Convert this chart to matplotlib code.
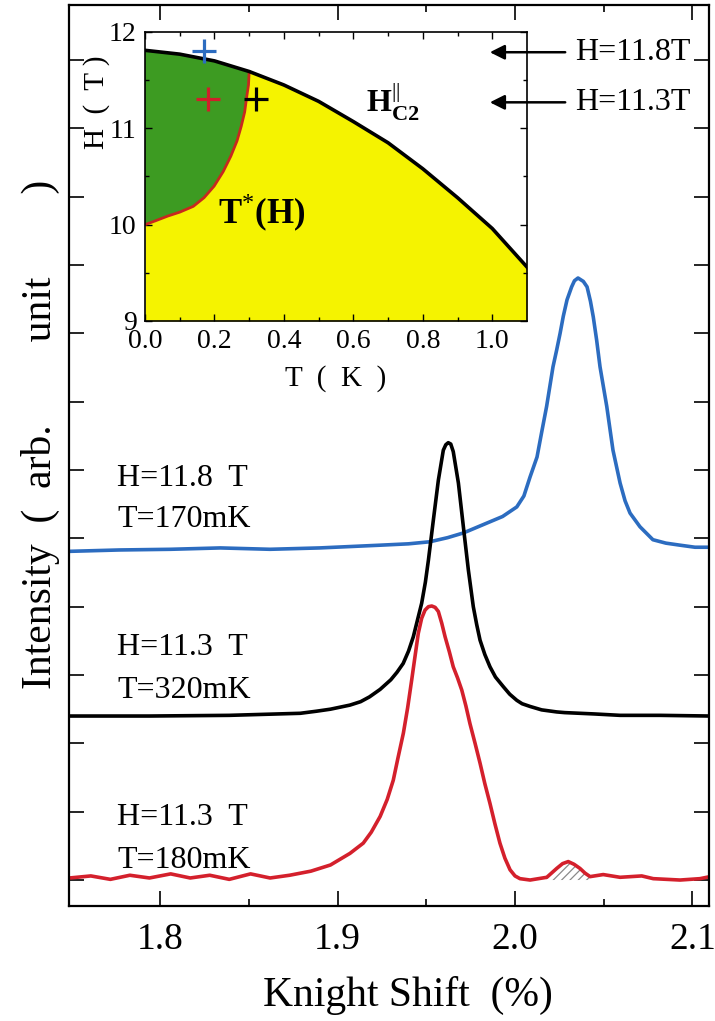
import numpy as np
import matplotlib.pyplot as plt

plt.rcParams['font.family'] = ['Liberation Serif', 'DejaVu Serif']
plt.rcParams['mathtext.fontset'] = 'custom'
plt.rcParams['mathtext.rm'] = 'Liberation Serif'
plt.rcParams['mathtext.bf'] = 'Liberation Serif:bold'
plt.rcParams['hatch.linewidth'] = 0.9

# spectra: Knight shift (%) and intensity (offset, arb. unit)
ks_118_170 = [1.749, 1.777, 1.806, 1.834, 1.862, 1.890, 1.924, 1.940, 1.952, 1.962,
              1.971, 1.982, 1.993, 2.001, 2.005, 2.0085, 2.0124, 2.0150, 2.0178, 2.0214,
              2.0235, 2.0254, 2.0272, 2.0293, 2.0319, 2.0335, 2.0355, 2.0385, 2.0406, 2.0425,
              2.0441, 2.0460, 2.0479, 2.0498, 2.0517, 2.0535, 2.0552, 2.0592, 2.0620, 2.0648,
              2.0704, 2.0777, 2.0850, 2.0930, 2.1014, 2.1099]
int_118_170 = [4.81, 4.83, 4.84, 4.86, 4.84, 4.86, 4.90, 4.92, 4.95, 5.01,
               5.08, 5.20, 5.32, 5.46, 5.62, 5.90, 6.19, 6.55, 6.93, 7.51,
               7.76, 8.00, 8.25, 8.49, 8.68, 8.77, 8.81, 8.76, 8.68, 8.47,
               8.24, 7.90, 7.51, 7.22, 6.93, 6.60, 6.29, 5.81, 5.55, 5.37,
               5.17, 4.98, 4.93, 4.90, 4.87, 4.87]

ks_113_320 = [1.749, 1.794, 1.839, 1.879, 1.888, 1.896, 1.907, 1.913, 1.918, 1.924,
              1.930, 1.9335, 1.937, 1.940, 1.9427, 1.945, 1.9474, 1.9495, 1.9512, 1.954,
              1.9568, 1.9596, 1.961, 1.9624, 1.9638, 1.9652, 1.9681, 1.9709, 1.9737, 1.9765,
              1.9784, 1.9803, 1.983, 1.9859, 1.989, 1.9934, 1.997, 2.001, 2.004, 2.0085,
              2.015, 2.0235, 2.028, 2.0366, 2.045, 2.0592, 2.070, 2.0817, 2.1099]
int_113_320 = [2.40, 2.40, 2.41, 2.44, 2.47, 2.50, 2.56, 2.61, 2.68, 2.79,
               2.93, 3.04, 3.17, 3.35, 3.56, 3.80, 4.05, 4.36, 4.68, 5.27,
               5.85, 6.29, 6.37, 6.40, 6.38, 6.27, 5.81, 5.17, 4.54, 4.00,
               3.74, 3.51, 3.30, 3.12, 2.97, 2.83, 2.72, 2.63, 2.58, 2.54,
               2.49, 2.46, 2.45, 2.44, 2.43, 2.41, 2.41, 2.41, 2.40]

ks_113_180 = [1.749, 1.761, 1.772, 1.783, 1.794, 1.806, 1.817, 1.828, 1.839, 1.851,
              1.862, 1.873, 1.885, 1.896, 1.907, 1.9145, 1.919, 1.924, 1.928, 1.9314,
              1.934, 1.9371, 1.9395, 1.9418, 1.9437, 1.9455, 1.9474, 1.9493, 1.9512, 1.9531,
              1.955, 1.9568, 1.9587, 1.9606, 1.963, 1.9652, 1.9676, 1.970, 1.9723, 1.9746,
              1.9775, 1.9803, 1.983, 1.9859, 1.9887, 1.9915, 1.9943, 1.9972, 2.000, 2.0028,
              2.0085, 2.0179, 2.0205, 2.0235, 2.0268, 2.0300, 2.0333, 2.0366, 2.0395, 2.0423,
              2.0497, 2.0592, 2.0714, 2.0779, 2.0930, 2.1042, 2.1099]
int_113_180 = [0.03, 0.06, 0.01, 0.07, 0.03, 0.09, 0.03, 0.07, 0.01, 0.09,
               0.03, 0.07, 0.13, 0.22, 0.39, 0.54, 0.70, 0.93, 1.18, 1.46,
               1.78, 2.15, 2.52, 2.93, 3.28, 3.61, 3.83, 3.95, 4.00, 4.01,
               3.99, 3.93, 3.76, 3.56, 3.34, 3.12, 2.96, 2.78, 2.55, 2.29,
               2.00, 1.71, 1.41, 1.12, 0.82, 0.54, 0.32, 0.15, 0.06, 0.02,
               0.00, 0.04, 0.10, 0.17, 0.24, 0.27, 0.23, 0.17, 0.10, 0.05,
               0.08, 0.04, 0.06, 0.02, 0.00, 0.02, 0.05]

# second-site satellite of the 180 mK spectrum
sat_lo, sat_hi = 2.017, 2.043

labels_left = [('H=11.8  T', 'T=170mK'), ('H=11.3  T', 'T=320mK'), ('H=11.3  T', 'T=180mK')]
label_y = [(5.88, 5.27), (3.40, 2.78), (0.92, 0.29)]

# phase diagram H || ab
T_hc2 = [0.0, 0.1, 0.2, 0.3, 0.4, 0.5, 0.6, 0.7, 0.8, 0.9, 1.0, 1.1]
H_hc2 = [11.81, 11.77, 11.70, 11.59, 11.45, 11.28, 11.07, 10.85, 10.58, 10.28, 9.96, 9.56]
T_star = [0.0, 0.03, 0.066, 0.10, 0.139, 0.17, 0.199, 0.225, 0.247, 0.265,
          0.277, 0.287, 0.293, 0.298, 0.30]
H_star = [10.0, 10.04, 10.09, 10.13, 10.19, 10.28, 10.40, 10.55, 10.71, 10.87,
          11.02, 11.17, 11.33, 11.45, 11.59]

pts_T = [0.17, 0.18, 0.32]
pts_H = [11.8, 11.3, 11.3]
pts_col = ['#2c6cc0', '#d0202a', 'black']

c_blue = '#2c6cc0'
c_red = '#d4202c'

fig = plt.figure(figsize=(7.15, 10.21), dpi=100)
ax = fig.add_axes([69/715, 1 - 906/1021, 640/715, 901/1021])

ks_r = np.array(ks_113_180)
in_r = np.array(int_113_180)
sel = (ks_r >= sat_lo) & (ks_r <= sat_hi)
ax.fill_between(ks_r[sel], 0, in_r[sel], facecolor='none', edgecolor='#8a8a8a',
                hatch='////', lw=0)
line_kw = dict(lw=2.6, solid_joinstyle='round', solid_capstyle='round')
ax.plot(ks_118_170, int_118_170, color=c_blue, **line_kw)
ax.plot(ks_113_320, int_113_320, color='black', **line_kw)
ax.plot(ks_r, in_r, color=c_red, **line_kw)

for (l1, l2), (y1, y2) in zip(labels_left, label_y):
    ax.text(1.7758, y1, l1, fontsize=23, va='center', ha='left')
    ax.text(1.7758, y2, l2, fontsize=23, va='center', ha='left')

ax.set_xlim(1.7487, 2.1093)
ax.set_ylim(-0.38, 12.805)
ax.set_xticks([1.8, 1.9, 2.0, 2.1])
ax.set_xticks([1.85, 1.95, 2.05], minor=True)
ax.set_xticklabels(['1.8', '1.9', '2.0', '2.1'])
ax.set_yticks(np.arange(0, 13))
ax.set_yticklabels([])
ax.tick_params(which='both', direction='in', top=True, right=True, width=1.2)
ax.tick_params(which='major', length=11, labelsize=27, pad=12)
ax.tick_params(which='minor', length=5)
for s in ax.spines.values():
    s.set_linewidth(1.6)

ax.set_xlabel('Knight Shift  (%)', fontsize=30)
ax.xaxis.label.set_va('center')
ax.xaxis.set_label_coords(0.53, -0.0988)
ax.set_ylabel('Intensity  (  arb.        unit        )', fontsize=30)
ax.yaxis.label.set_va('center')
ax.yaxis.set_label_coords(-0.045, 0.523)

# inset: H-T phase diagram
ins = fig.add_axes([145/715, 1 - 321/1021, 382/715, 289/1021])
ins.fill_between(T_hc2, 9, H_hc2, color='#f5f300', lw=0)
sc = [i for i, t in enumerate(T_hc2) if t <= 0.3][::-1]
ins.fill(T_star + [T_hc2[i] for i in sc], H_star + [H_hc2[i] for i in sc],
         color='#3d9b22', lw=0)
ins.plot(T_star, H_star, color='#c8281e', lw=2.0, solid_joinstyle='round')
ins.plot(T_hc2, H_hc2, color='black', lw=2.6, solid_joinstyle='round')
for t, h, c in zip(pts_T, pts_H, pts_col):
    ins.plot(t, h, marker='+', ms=17, mew=2.3, color=c, ls='none')

ins.text(0.635, 11.28, r'$\mathbf{H}^{||}_{\mathbf{C2}}$', fontsize=23, va='center')
ins.text(0.21, 10.12, r'$\mathbf{T}^{*}\mathbf{(H)}$', fontsize=25, va='center')

for h, txt in [(11.79, 'H=11.8T'), (11.27, 'H=11.3T')]:
    ins.annotate('', xy=(0.985, h), xytext=(1.218, h), annotation_clip=False,
                 arrowprops=dict(arrowstyle='-|>', color='black', lw=1.8,
                                 mutation_scale=22))
    ins.text(1.238, h, txt, fontsize=23, va='center', ha='left', clip_on=False)

ins.set_xlim(0, 1.1)
ins.set_ylim(9, 12)
ins.set_xticks([0.0, 0.2, 0.4, 0.6, 0.8, 1.0])
ins.set_xticks(np.arange(0.1, 1.1, 0.2), minor=True)
ins.set_xticklabels(['0.0', '0.2', '0.4', '0.6', '0.8', '1.0'])
ins.set_yticks([9, 10, 11, 12])
ins.set_yticks([9.5, 10.5, 11.5], minor=True)
ins.tick_params(which='both', direction='in', top=True, right=True, width=1.0)
ins.tick_params(which='major', length=5, labelsize=20, pad=6)
ins.tick_params(which='minor', length=3)
for s in ins.spines.values():
    s.set_linewidth(1.2)
ins.set_xlabel('T  (  K  )', fontsize=21)
ins.xaxis.label.set_va('center')
ins.xaxis.set_label_coords(0.5, -0.2)
ins.set_ylabel('H  (  T )', fontsize=21)
ins.yaxis.label.set_va('center')
ins.yaxis.set_label_coords(-0.126, 0.758)

fig.savefig('out.png', dpi=100)
